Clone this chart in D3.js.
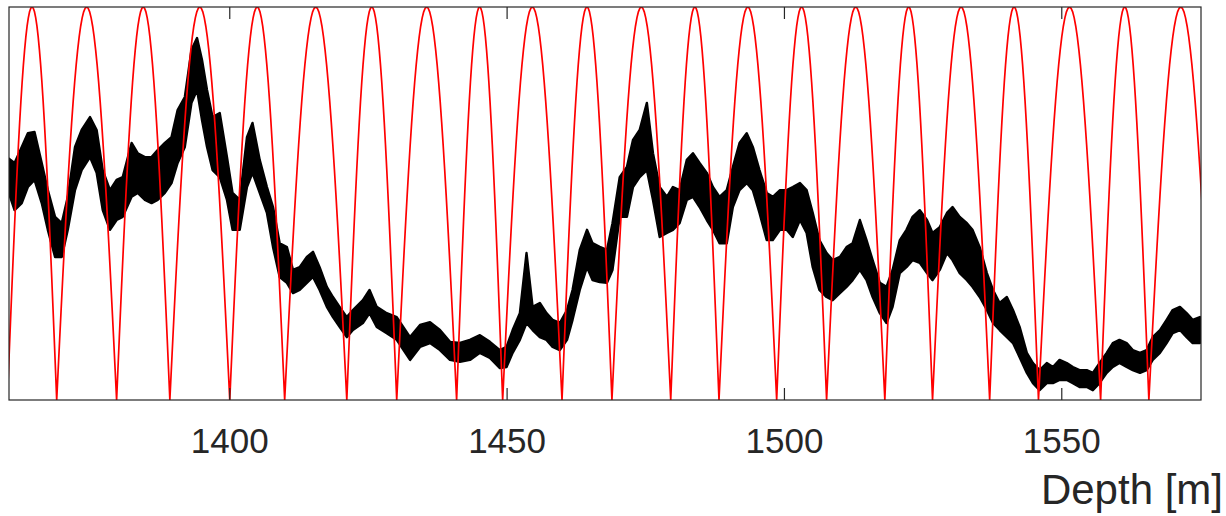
<!DOCTYPE html>
<html>
<head>
  <meta charset="utf-8">
  <title>Depth</title>
  <script src="https://d3js.org/d3.v7.min.js"></script>
  <style>
    body { margin: 0; background: #fff; font-family: "Liberation Sans", Arial, sans-serif; }
    svg { display: block; }
    .tick-label { font-size: 35px; fill: #262626; }
    .axis-title { font-size: 42px; fill: #262626; }
  </style>
</head>
<body>
  <svg width="1226" height="516"></svg>
  <script>
    // x axis
    const depthDomain = [1360.2, 1575.1];
    const depthTicks = [1400, 1450, 1500, 1550];

    // red curve: depths where the arches touch zero (each arch peaks at 100)
    const redZeroDepths = [1359.9, 1368.8, 1379.6, 1389.2, 1400.0, 1409.9, 1421.1, 1430.1,
      1440.9, 1449.2, 1459.9, 1468.9, 1479.5, 1488.2, 1498.6, 1507.6, 1518.1, 1526.7,
      1537.0, 1545.8, 1557.0, 1565.7, 1577.2];

    // black log: depth, upper and lower edge of the noisy band (0-100 scale)
    const blackDepth = [1360.0, 1361.2, 1362.5, 1363.6, 1364.8, 1366.1, 1367.2, 1368.5, 1369.7, 1370.8,
      1372.1, 1373.3, 1374.8, 1376.0, 1377.1, 1378.4, 1379.6, 1380.7, 1382.3, 1383.4,
      1384.7, 1385.9, 1387.0, 1388.3, 1389.5, 1390.6, 1391.9, 1393.1, 1394.1, 1395.0,
      1395.9, 1396.9, 1398.2, 1399.5, 1400.5, 1401.8, 1403.1, 1404.1, 1405.4, 1406.7,
      1407.8, 1409.0, 1410.3, 1411.4, 1412.6, 1413.9, 1415.0, 1416.2, 1417.5, 1418.6,
      1419.8, 1421.1, 1422.2, 1424.0, 1425.2, 1426.5, 1428.3, 1430.1, 1432.5, 1434.3,
      1436.1, 1437.9, 1439.7, 1441.5, 1443.3, 1445.1, 1446.9, 1448.7, 1449.9, 1451.0,
      1452.3, 1453.5, 1454.6, 1455.9, 1457.1, 1458.2, 1459.5, 1460.8, 1461.8, 1463.1,
      1464.4, 1465.4, 1466.7, 1468.0, 1469.0, 1470.3, 1471.6, 1472.7, 1473.9, 1475.2,
      1476.3, 1477.5, 1478.8, 1479.9, 1481.1, 1482.4, 1483.5, 1484.7, 1486.0, 1487.1,
      1488.3, 1489.6, 1490.7, 1491.9, 1493.2, 1494.3, 1495.5, 1496.8, 1497.9, 1499.2,
      1500.4, 1501.5, 1502.8, 1504.0, 1505.1, 1506.3, 1507.6, 1508.7, 1510.0, 1511.2,
      1512.3, 1513.6, 1514.8, 1515.9, 1517.2, 1518.4, 1519.5, 1520.8, 1522.0, 1523.1,
      1524.4, 1525.7, 1526.7, 1528.0, 1529.3, 1530.3, 1531.6, 1532.9, 1533.9, 1535.2,
      1536.5, 1537.6, 1538.8, 1540.1, 1541.2, 1542.4, 1543.7, 1544.8, 1546.0, 1547.3,
      1548.4, 1549.6, 1550.9, 1552.0, 1553.2, 1554.5, 1555.6, 1556.8, 1558.1, 1559.2,
      1560.4, 1561.7, 1562.8, 1564.1, 1565.3, 1566.4, 1567.7, 1568.9, 1570.0, 1571.3,
      1572.5, 1573.6, 1574.9];
    const blackHigh = [61.6, 60.3, 64.4, 67.9, 68.2, 60.3, 53.4, 46.6, 45.0, 51.7,
      64.4, 68.7, 72.0, 68.7, 58.5, 53.4, 56.0, 56.7, 65.4, 62.8,
      61.8, 61.8, 63.6, 65.4, 66.9, 73.8, 77.1, 89.1, 92.1, 86.5,
      78.9, 72.0, 73.0, 61.8, 52.7, 50.9, 66.9, 70.5, 61.1, 54.2,
      49.1, 39.9, 38.9, 33.1, 33.8, 36.4, 37.7, 33.8, 28.8, 26.2,
      23.7, 21.1, 22.9, 25.4, 28.0, 23.7, 22.1, 21.1, 16.0, 19.1,
      19.8, 17.8, 14.8, 14.5, 15.3, 16.5, 14.8, 12.7, 13.5, 17.8,
      22.1, 37.4, 23.7, 24.7, 22.1, 20.4, 19.6, 22.9, 28.0, 38.2,
      43.3, 39.9, 39.0, 38.2, 45.0, 56.7, 59.3, 66.2, 68.7, 75.6,
      62.8, 54.2, 51.7, 54.2, 53.4, 61.1, 62.8, 60.3, 57.8, 54.2,
      51.7, 53.4, 59.3, 65.4, 67.9, 64.4, 58.5, 52.7, 51.7, 53.4,
      53.4, 54.2, 55.2, 53.4, 47.6, 40.7, 37.4, 35.6, 36.4, 38.9,
      39.9, 45.8, 40.7, 35.6, 29.8, 28.8, 33.1, 40.7, 43.3, 46.6,
      48.3, 45.8, 42.5, 44.0, 47.6, 49.1, 46.6, 45.0, 43.3, 38.9,
      32.3, 28.0, 24.7, 26.2, 22.9, 18.6, 12.0, 9.4, 7.6, 9.4,
      8.4, 10.2, 9.4, 8.4, 7.6, 7.6, 6.9, 9.4, 12.0, 14.5,
      15.3, 14.5, 12.7, 12.0, 12.7, 16.0, 17.8, 20.4, 22.9, 23.7,
      22.1, 20.4, 21.1];
    const blackLow = [53.4, 48.3, 50.1, 54.2, 56.0, 50.1, 43.3, 36.4, 36.4, 43.3,
      53.4, 58.5, 61.8, 57.8, 48.3, 43.3, 45.8, 46.6, 51.7, 52.7,
      50.9, 50.1, 50.9, 52.7, 55.2, 60.3, 64.4, 75.6, 78.9, 71.2,
      64.4, 58.5, 56.7, 50.9, 43.3, 43.3, 54.2, 57.8, 52.7, 47.6,
      38.9, 31.3, 29.8, 27.2, 28.0, 29.8, 31.3, 28.0, 23.7, 21.1,
      18.6, 16.0, 17.8, 19.6, 22.1, 18.6, 17.0, 15.3, 10.2, 13.5,
      14.5, 12.7, 10.2, 9.7, 10.2, 12.0, 10.7, 8.1, 8.4, 12.0,
      15.3, 19.6, 17.8, 16.0, 15.3, 13.5, 12.7, 15.3, 20.4, 28.0,
      33.8, 30.5, 30.0, 29.8, 33.1, 46.6, 46.6, 54.2, 56.7, 58.5,
      50.9, 41.5, 42.5, 43.3, 45.0, 50.9, 51.7, 49.1, 45.8, 43.3,
      39.9, 39.9, 49.1, 53.4, 55.2, 53.4, 47.6, 40.7, 40.7, 43.3,
      43.3, 41.5, 45.8, 42.5, 33.8, 28.0, 26.2, 25.4, 27.2, 28.8,
      30.5, 33.1, 30.5, 26.2, 22.1, 19.6, 23.7, 32.3, 33.8, 35.6,
      34.9, 32.3, 30.5, 33.1, 37.4, 35.6, 32.3, 30.5, 28.8, 26.2,
      22.9, 19.6, 17.8, 16.0, 14.5, 10.9, 6.9, 4.3, 2.5, 4.3,
      4.3, 5.1, 5.1, 4.3, 3.3, 3.3, 2.5, 4.3, 6.9, 8.4,
      9.4, 8.4, 7.6, 6.9, 7.6, 10.2, 12.0, 14.5, 17.0, 17.8,
      16.0, 14.5, 14.5];

    const svg = d3.select("svg");
    const margin = { top: 7, right: 25, bottom: 116, left: 9 };
    const width = 1226 - margin.left - margin.right;
    const height = 516 - margin.top - margin.bottom;

    const x = d3.scaleLinear().domain(depthDomain).range([0, width]);
    const y = d3.scaleLinear().domain([0, 100]).range([height, 0]);

    const g = svg.append("g").attr("transform", `translate(${margin.left},${margin.top})`);

    g.append("clipPath").attr("id", "plot-clip")
      .append("rect").attr("width", width).attr("height", height);

    const plot = g.append("g").attr("clip-path", "url(#plot-clip)");

    // black band
    const band = blackDepth.map((d, i) => ({ depth: d, hi: blackHigh[i], lo: blackLow[i] }));
    plot.append("path")
      .datum(band)
      .attr("fill", "#000")
      .attr("stroke", "#000")
      .attr("stroke-width", 2.4)
      .attr("stroke-linejoin", "round")
      .attr("d", d3.area()
        .x(d => x(d.depth))
        .y0(d => y(d.lo))
        .y1(d => y(d.hi)));

    // red arches, one half-wave between each pair of zero depths
    const redPts = [];
    for (let i = 0; i < redZeroDepths.length - 1; i++) {
      const a = redZeroDepths[i], b = redZeroDepths[i + 1];
      const n = 40;
      for (let k = 0; k <= n; k++) {
        if (i > 0 && k === 0) continue;
        redPts.push({ depth: a + (b - a) * k / n, v: 100 * Math.sin(Math.PI * k / n) });
      }
    }
    plot.append("path")
      .datum(redPts)
      .attr("fill", "none")
      .attr("stroke", "#ff0000")
      .attr("stroke-width", 1.7)
      .attr("d", d3.line().x(d => x(d.depth)).y(d => y(d.v)));

    // frame
    g.append("rect")
      .attr("width", width).attr("height", height)
      .attr("fill", "none").attr("stroke", "#262626").attr("stroke-width", 1.2);

    // inward ticks, top and bottom
    const tickLen = 12;
    depthTicks.forEach(t => {
      g.append("line").attr("x1", x(t)).attr("x2", x(t))
        .attr("y1", height).attr("y2", height - tickLen)
        .attr("stroke", "#262626").attr("stroke-width", 1.2);
      g.append("line").attr("x1", x(t)).attr("x2", x(t))
        .attr("y1", 0).attr("y2", tickLen)
        .attr("stroke", "#262626").attr("stroke-width", 1.2);
      g.append("text").attr("class", "tick-label")
        .attr("x", x(t)).attr("y", height + 53)
        .attr("text-anchor", "middle")
        .text(t);
    });

    g.append("text").attr("class", "axis-title")
      .attr("x", 1223 - margin.left).attr("y", 504 - margin.top)
      .attr("text-anchor", "end")
      .text("Depth [m]");
  </script>
</body>
</html>
